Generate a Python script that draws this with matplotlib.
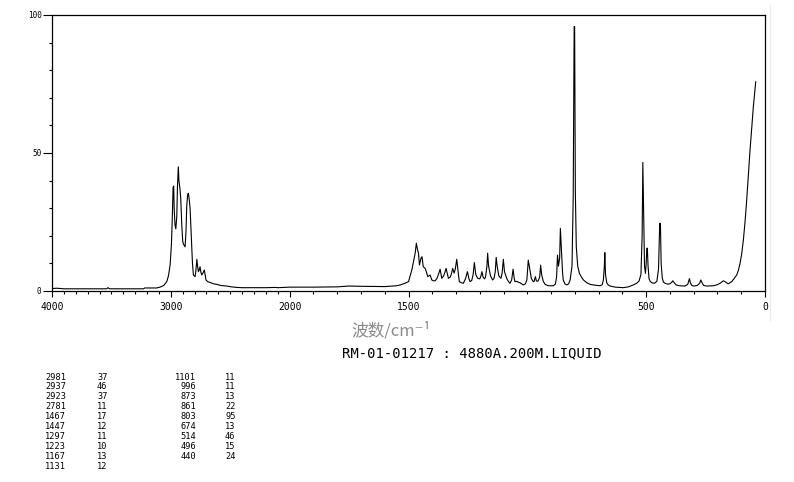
import matplotlib
matplotlib.use("Agg")
import matplotlib.pyplot as plt
import numpy as np

# traced Raman spectrum (wavenumber cm-1, relative intensity)
spec_wn = [4000, 3960, 3900, 3800, 3600, 3540, 3530, 3515, 3300, 3230, 3220, 3120,
           3090, 3060, 3034, 3020, 3006, 2995, 2988, 2983, 2981, 2976, 2972, 2965,
           2958, 2950, 2944, 2937, 2932, 2923, 2916, 2908, 2900, 2894, 2880, 2872,
           2866, 2858, 2852, 2845, 2838, 2830, 2824, 2818, 2810, 2796, 2790, 2781,
           2775, 2768, 2762, 2754, 2748, 2740, 2730, 2718, 2712, 2704, 2690, 2670,
           2640, 2614, 2580, 2530, 2490, 2446, 2400, 2200, 2120, 2100, 2000,
           1900, 1800, 1750, 1700, 1600, 1550, 1535, 1515, 1500, 1486, 1478, 1472,
           1467, 1462, 1458, 1454, 1450, 1447, 1443, 1438, 1430, 1425, 1419, 1414,
           1409, 1402, 1395, 1388, 1380, 1372, 1367, 1360, 1352, 1346, 1342, 1336,
           1332, 1325, 1320, 1314, 1308, 1303, 1297, 1290, 1286, 1278, 1269, 1260,
           1252, 1246, 1241, 1234, 1228, 1223, 1217, 1209, 1200, 1195, 1191, 1186,
           1180, 1176, 1170, 1167, 1163, 1155, 1146, 1140, 1135, 1131, 1127, 1120,
           1111, 1106, 1101, 1096, 1087, 1080, 1073, 1066, 1060, 1055, 1052, 1045,
           1038, 1031, 1024, 1017, 1008, 1002, 996, 990, 983, 975, 972, 966,
           962, 955, 948, 944, 940, 933, 925, 912, 891, 882, 877, 873,
           869, 864, 861, 857, 852, 849, 842, 834, 826, 820, 812, 807,
           803, 801, 798, 794, 788, 781, 772, 764, 750, 736, 715, 694,
           685, 680, 676, 674, 671, 666, 660, 652, 630, 596, 575, 554,
           540, 530, 522, 517, 514, 511, 507, 503, 500, 497, 495, 492,
           488, 483, 477, 465, 455, 448, 443, 440, 437, 432, 427, 421,
           410, 400, 392, 388, 384, 374, 360, 337, 325, 318, 314, 308,
           300, 285, 275, 270, 265, 258, 245, 217, 200, 189, 175, 165,
           155, 140, 130, 119, 112, 105, 98, 91, 84, 77, 70, 63,
           56, 49, 43, 39]
spec_int = [0.9, 1.0, 0.8, 0.8, 0.8, 0.8, 1.2, 0.8, 0.8, 0.8, 1.1, 1.1,
            1.4, 2.0, 3.4, 5.5, 9.4, 17, 26, 34, 37.5, 38, 30, 24,
            22.5, 27, 38, 45, 40, 37, 33, 24, 18, 17, 16, 22,
            31, 35, 35.4, 33, 30, 22, 16.7, 10, 5.8, 5.2, 7, 11.5,
            9, 7, 7.5, 8.8, 7, 5.8, 6.5, 7.6, 6, 4, 3.4, 3.1,
            2.6, 2.4, 2.0, 1.8, 1.5, 1.3, 1.2, 1.2, 1.3, 1.2, 1.4,
            1.4, 1.5, 1.8, 1.7, 1.6, 1.9, 2.2, 2.8, 3.4, 7.6, 11, 13.7,
            17.3, 15, 13.7, 9.4, 11, 12, 12.4, 8.8, 8.2, 7, 5.2, 5.5,
            5.8, 4, 3.7, 3.7, 4.6, 6.5, 7.9, 4.6, 5.5, 7, 8.2, 6,
            4.6, 5, 6, 8.2, 6.5, 8, 11.5, 6, 3.4, 3.0, 2.8, 4.5,
            7.0, 4.5, 3.4, 3.8, 6, 10.3, 6, 4.6, 4.4, 5.5, 7.0, 5,
            4.4, 5, 9, 13.7, 9, 5.5, 4, 4.6, 7, 12.2, 9, 5.5,
            4.6, 6.5, 11.5, 7, 4.6, 3.5, 2.8, 4, 7.9, 4.5, 3.4, 3.5,
            3.2, 3.0, 2.6, 2.2, 2.6, 4, 11.2, 8, 4.5, 3.4, 3.4, 5.2,
            3.6, 3.6, 5, 9.4, 6, 3.5, 2.4, 1.9, 1.9, 2.5, 5, 13,
            9, 12, 22.7, 16, 7, 4, 2.6, 2.2, 2.6, 4, 9, 34,
            95.8, 95.8, 36, 16, 9, 6.4, 5, 4, 3, 2.4, 2.1, 1.9,
            2.3, 4, 9, 13.9, 6, 3, 2.2, 1.8, 1.4, 1.2, 1.5, 2.2,
            2.8, 3.6, 6, 20, 46.6, 30, 9, 6.4, 10, 15.5, 15.5, 9,
            4.5, 3.5, 3.0, 2.8, 3.5, 8, 24.5, 24.5, 10, 4.5, 3.2, 2.8,
            2.5, 2.6, 3.2, 3.7, 3.2, 2.2, 1.9, 1.8, 2.4, 4.5, 3, 2,
            1.8, 2, 2.8, 4, 3, 2, 1.8, 1.9, 2.3, 2.8, 3.7, 3.2,
            2.6, 3.4, 4.5, 5.8, 7.5, 10, 13.5, 18.5, 25, 33, 42, 51,
            59, 66.8, 72, 75.8]

# peak table
peak_wn = [2981, 2937, 2923, 2781, 1467, 1447, 1297, 1223, 1167, 1131,
           1101, 996, 873, 861, 803, 674, 514, 496, 440]
peak_int = [37, 46, 37, 11, 17, 12, 11, 10, 13, 12,
            11, 11, 13, 22, 95, 13, 46, 15, 24]

xtick_vals = [4000, 3000, 2000, 1500, 500, 0]
ytick_vals = [0, 50, 100]


def fwd(w):
    w = np.asarray(w, dtype=float)
    return np.where(w <= 2000, w, 2000 + (w - 2000) / 2.0)


def inv(u):
    u = np.asarray(u, dtype=float)
    return np.where(u <= 2000, u, 2000 + (u - 2000) * 2.0)


mono = 'DejaVu Sans Mono'

fig = plt.figure(figsize=(7.94, 4.82), dpi=100)
fig.patch.set_facecolor('white')
ax = fig.add_axes([52 / 794, 1 - 291 / 482, 713 / 794, 276 / 482])

ax.plot(spec_wn, spec_int, color='black', linewidth=0.8)

ax.set_xscale('function', functions=(fwd, inv))
ax.set_xlim(4000, 0)
ax.set_ylim(0, 100)

ax.set_xticks(xtick_vals)
ax.set_xticklabels([str(v) for v in xtick_vals], fontfamily=mono, fontsize=7)
ax.set_xticks(list(range(0, 4001, 100)), minor=True)
ax.set_yticks(ytick_vals)
ax.set_yticklabels([str(v) for v in ytick_vals], fontfamily=mono, fontsize=5.5)
ax.set_yticks(list(range(0, 101, 10)), minor=True)

ax.tick_params(axis='x', which='major', direction='out', length=4, width=0.8, pad=4)
ax.tick_params(axis='x', which='minor', direction='out', length=2.2, width=0.8)
ax.tick_params(axis='y', which='major', direction='out', length=6.5, width=0.8, pad=1)
ax.tick_params(axis='y', which='minor', direction='out', length=2.2, width=0.8)
for s in ax.spines.values():
    s.set_linewidth(0.9)
    s.set_color('black')

# axis caption and sample id
fig.text(391 / 794, 1 - 331 / 482, '波数/cm⁻¹', ha='center', va='center',
         fontsize=12, color='#8a8a8a', family=['Noto Sans CJK SC', 'DejaVu Sans'])
fig.text(472 / 794, 1 - 353 / 482, 'RM-01-01217 : 4880A.200M.LIQUID', ha='center',
         va='center', fontsize=10, family=mono, color='black')

# peak listing, two blocks of two columns
row_h = 9.9
for i, (w, v) in enumerate(zip(peak_wn, peak_int)):
    col = 0 if i < 10 else 1
    r = i if i < 10 else i - 10
    y = 1 - (377 + r * row_h) / 482
    if col == 0:
        fig.text(66 / 794, y, str(w), ha='right', va='center', fontsize=6.2, family=mono)
        fig.text(97 / 794, y, str(v), ha='left', va='center', fontsize=6.2, family=mono)
    else:
        fig.text(196 / 794, y, str(w), ha='right', va='center', fontsize=6.2, family=mono)
        fig.text(225 / 794, y, str(v), ha='left', va='center', fontsize=6.2, family=mono)

# faint frame edge at right of the original page
fig.add_artist(plt.Line2D([770 / 794, 770 / 794], [1 - 5 / 482, 1 - 320 / 482],
                          color='#ececec', linewidth=1))

fig.savefig('out.png', dpi=100)
